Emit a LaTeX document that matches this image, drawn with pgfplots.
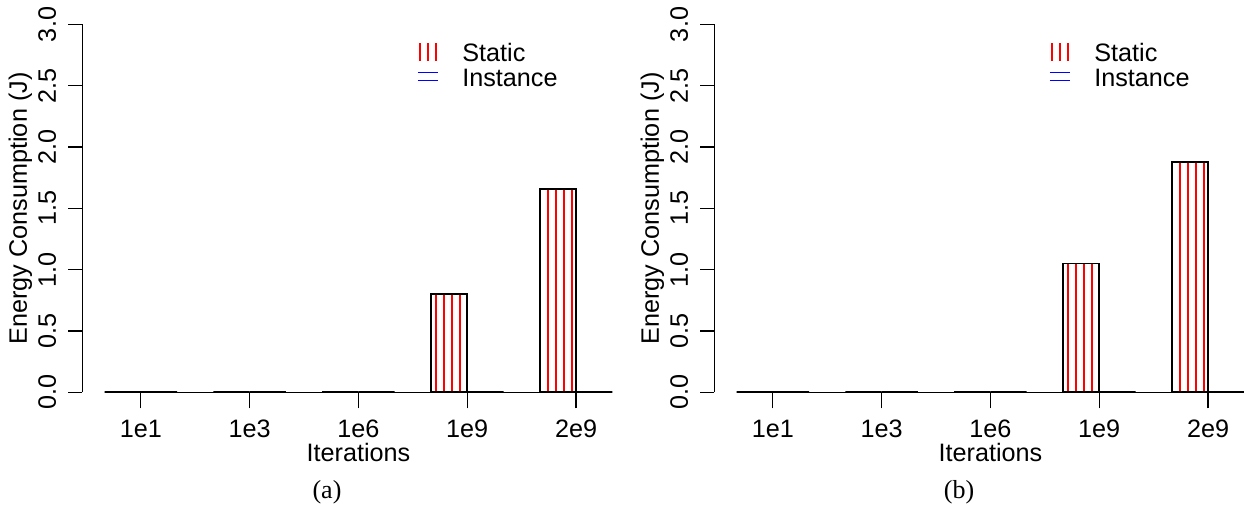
\documentclass[border=0pt]{standalone}
\usepackage{fontspec}
\setmainfont{Liberation Sans}
\newfontfamily\capfont{Liberation Serif}
\usepackage{pgfplots}
\pgfplotsset{compat=1.18}
\usetikzlibrary{patterns}
\pgfdeclarepatternformonly{vlinesx}{\pgfqpoint{-1pt}{-1pt}}{\pgfqpoint{5pt}{41pt}}{\pgfqpoint{4pt}{40pt}}{%
  \pgfsetlinewidth{0.65pt}%
  \pgfpathmoveto{\pgfqpoint{2pt}{-1pt}}%
  \pgfpathlineto{\pgfqpoint{2pt}{41pt}}%
  \pgfusepath{stroke}%
}
\pgfdeclarepatternformonly{hlinesx}{\pgfqpoint{-1pt}{-1pt}}{\pgfqpoint{41pt}{5pt}}{\pgfqpoint{40pt}{4pt}}{%
  \pgfsetlinewidth{0.65pt}%
  \pgfpathmoveto{\pgfqpoint{-1pt}{2pt}}%
  \pgfpathlineto{\pgfqpoint{41pt}{2pt}}%
  \pgfusepath{stroke}%
}
\newcommand\ff{\fontsize{12.6}{15}\selectfont}
\pgfplotsset{
  myax/.style={
    anchor=south west,
    x=18.135pt, y=61.3pt,
    xmin=0.387, xmax=15, ymin=0, ymax=3,
    axis y line*=left, axis x line*=bottom,
    x axis line style={draw=none,-},
    y axis line style={line width=0.6pt,-},
    clip=false,
    xtick={2,5,8,11,14},
    xticklabels={1e1,1e3,1e6,1e9,2e9},
    ytick={0,0.5,1,1.5,2,2.5,3},
    yticklabels={0.0,0.5,1.0,1.5,2.0,2.5,3.0},
    tick align=outside,
    xtick style={line width=0.6pt, black, /pgfplots/major tick length=8pt},
    ytick style={line width=0.6pt, black, /pgfplots/major tick length=7pt},
    tick label style={font=\ff, inner sep=0pt},
    xticklabel style={anchor=base, yshift=-18.1pt},
    yticklabel style={xshift=-8.9pt, rotate=90, anchor=base},
    label style={font=\ff, inner sep=0pt},
    xlabel={Iterations},
    ylabel={Energy Consumption (J)},
    xlabel style={at={(axis description cs:0.521,-0.187)}, anchor=base},
    ylabel style={at={(axis description cs:-0.1167,0.5)}, anchor=center},
    legend style={draw=none, fill=none, at={(axis cs:9.623,2.860)}, anchor=north west,
      inner sep=0pt, outer sep=0pt, row sep=1.5pt, column sep=0pt,
      nodes={inner sep=0pt, text height=10pt, text depth=1pt, font=\ff}},
    legend cell align=left,
  },
  stat/.style={ybar, bar width=1, bar shift=0pt, draw=black, line width=0.8pt,
    pattern=vlinesx, pattern color=red, forget plot},
  inst/.style={ybar, bar width=1, bar shift=0pt, draw=black, line width=0.8pt,
    pattern=hlinesx, pattern color=blue, forget plot},
  statleg/.style={legend image code/.code={
    \path[draw=none,fill=none] (0pt,0pt) -- (22.2pt,0pt);
    \draw[red, line width=0.65pt] (1pt,-4.07pt) -- (1pt,4.77pt);
    \draw[red, line width=0.65pt] (5pt,-4.07pt) -- (5pt,4.77pt);
    \draw[red, line width=0.65pt] (9pt,-4.07pt) -- (9pt,4.77pt);
  }},
  instleg/.style={legend image code/.code={
    \path[draw=none,fill=none] (0pt,0pt) -- (22.2pt,0pt);
    \draw[blue, line width=0.65pt] (0pt,2.7pt) -- (10pt,2.7pt);
    \draw[blue, line width=0.65pt] (0pt,-1.5pt) -- (10pt,-1.5pt);
  }},
}
\begin{document}
\begin{tikzpicture}
\path[use as bounding box] (-41.15pt,-59.85pt) rectangle (580.85pt,196.15pt);
% panel (a)
\begin{axis}[myax, at={(0pt,0pt)}]
\addplot[black, line width=0.4pt, forget plot] coordinates {(1,0) (15,0)};
\addplot[stat] coordinates {(1.5,0) (4.5,0) (7.5,0) (10.5,0.80) (13.5,1.66)};
\addplot[inst] coordinates {(2.5,0) (5.5,0) (8.5,0) (11.5,0) (14.5,0)};
\addlegendimage{statleg}
\addlegendentry{Static}
\addlegendimage{instleg}
\addlegendentry{Instance}
\end{axis}
% panel (b)
\begin{axis}[myax, at={(316pt,0pt)}]
\addplot[black, line width=0.4pt, forget plot] coordinates {(1,0) (15,0)};
\addplot[stat] coordinates {(1.5,0) (4.5,0) (7.5,0) (10.5,1.05) (13.5,1.88)};
\addplot[inst] coordinates {(2.5,0) (5.5,0) (8.5,0) (11.5,0) (14.5,0)};
\addlegendimage{statleg}
\addlegendentry{Static}
\addlegendimage{instleg}
\addlegendentry{Instance}
\end{axis}
\node[font=\capfont\fontsize{13}{15}\selectfont] at (122.35pt,-49.85pt) {(a)};
\node[font=\capfont\fontsize{13}{15}\selectfont] at (438.35pt,-49.85pt) {(b)};
\end{tikzpicture}
\end{document}
